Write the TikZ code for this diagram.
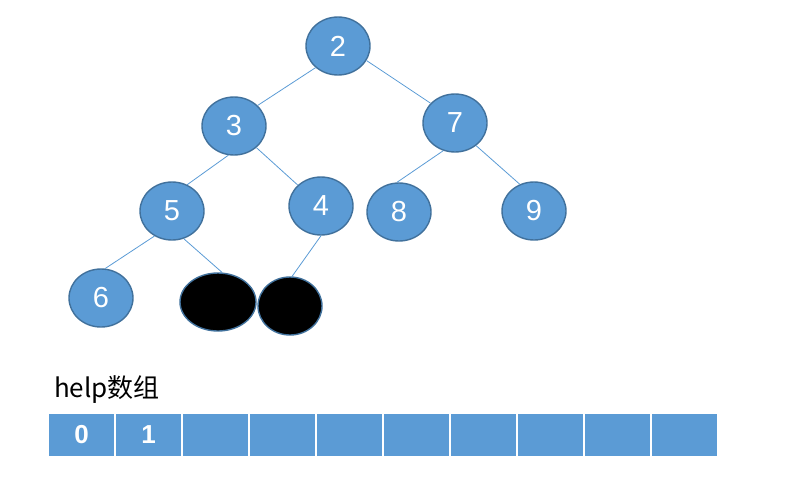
\documentclass[tikz,border=0pt]{standalone}
\usepackage{fontspec}
\setmainfont{Liberation Sans}
\newfontfamily\cjkfont{Noto Sans CJK SC}
\usetikzlibrary{positioning,shapes.geometric}
\definecolor{nodeblue}{HTML}{5B9BD5}
\definecolor{rimblue}{HTML}{41719C}
\begin{document}
\begin{tikzpicture}[
          x=1pt, y=-1pt,
          heapnode/.style={ellipse, draw=rimblue, line width=1.4pt, fill=nodeblue,
              minimum width=64pt, minimum height=58pt, inner sep=0pt,
              text=white, font=\fontsize{29}{29}\selectfont},
          hole/.style={heapnode, fill=black},
          edge/.style={nodeblue, line width=0.8pt},
          cell/.style={rectangle, draw=white, line width=1.2pt, fill=nodeblue,
              minimum width=67pt, minimum height=44pt, inner sep=0pt, outer sep=0pt,
              text=white, font=\fontsize{26}{26}\selectfont\bfseries}
        ]
        \useasboundingbox (0,0) rectangle (786,483);
        % tree
        \node[heapnode] (n2) at (338,46)  {2};
        \node[heapnode] (n3) at (234,126) {3};
        \node[heapnode] (n7) at (455,123) {7};
        \node[heapnode] (n5) at (172,211) {5};
        \node[heapnode] (n4) at (321,206) {4};
        \node[heapnode] (n8) at (399,212) {8};
        \node[heapnode] (n9) at (534,211) {9};
        \node[heapnode] (n6) at (101,298) {6};
        \node[hole, minimum width=76pt] (h1) at (218,302) {};
        \node[hole] (h2) at (290,306) {};
        \draw[edge] (n2.224) -- (n3.41);
        \draw[edge] (n2.333) -- (n7.141);
        \draw[edge] (n3.259) -- (n5.60);
        \draw[edge] (n3.316) -- (n4.138);
        \draw[edge] (n7.247) -- (n8.94);
        \draw[edge] (n7.313) -- (n9.118);
        \draw[edge] (n5.235) -- (n6.82);
        \draw[edge] (n5.293) -- (h1.82);
        \draw[edge] (n4.270) -- (h2.86);
        % help array
        \node[anchor=base west, font=\cjkfont\fontsize{26}{26}\selectfont,
              inner sep=0pt] (title) at (54,397) {help数组};
        \node[cell] (c0) at (81.5,435) {0};
        \node[cell, right=0pt of c0] (c1) {1};
        \node[cell, right=0pt of c1] (c2) {};
        \node[cell, right=0pt of c2] (c3) {};
        \node[cell, right=0pt of c3] (c4) {};
        \node[cell, right=0pt of c4] (c5) {};
        \node[cell, right=0pt of c5] (c6) {};
        \node[cell, right=0pt of c6] (c7) {};
        \node[cell, right=0pt of c7] (c8) {};
        \node[cell, right=0pt of c8] (c9) {};
      \end{tikzpicture}
\end{document}
